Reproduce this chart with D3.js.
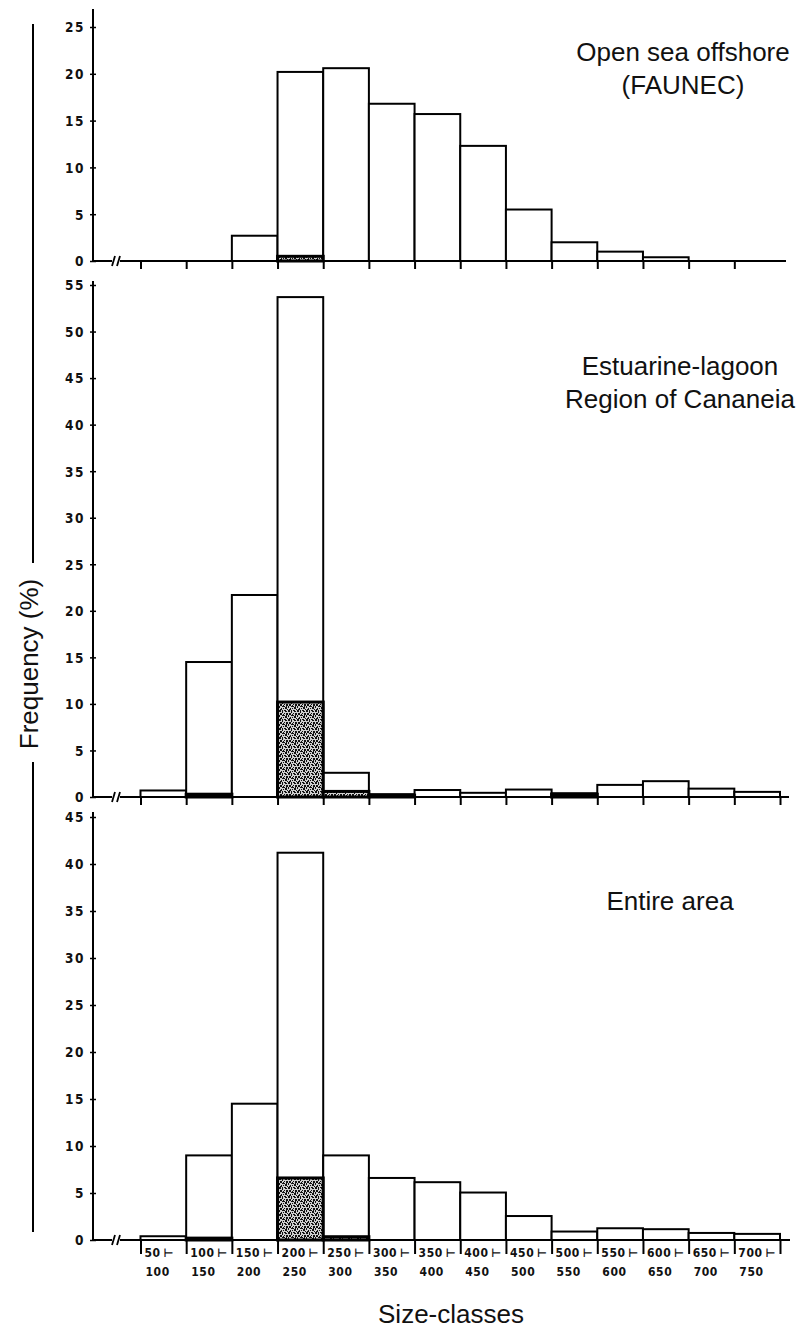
<!DOCTYPE html>
<html lang="en">
<head>
<meta charset="UTF-8">
<title>Frequency by size-classes</title>
<script src="https://d3js.org/d3.v7.min.js"></script>
<style>
  body { margin: 0; background: #fff; }
  .tick text {
    font-family: "DejaVu Sans Condensed", "DejaVu Sans", sans-serif;
    font-weight: bold;
    font-size: 13.5px;
    letter-spacing: 1.5px;
    fill: #111;
  }
  .xlab {
    font-family: "DejaVu Sans Condensed", "DejaVu Sans", sans-serif;
    font-weight: bold;
    font-size: 12px;
    letter-spacing: 0.6px;
    fill: #111;
  }
  .title {
    font-family: "Liberation Sans", Arial, sans-serif;
    font-size: 26px;
    fill: #111;
  }
</style>
</head>
<body>
<div id="chart"></div>
<script>
// size classes (lower bound, each 50 wide)
const classStarts = [50, 100, 150, 200, 250, 300, 350, 400, 450, 500, 550, 600, 650, 700];
const classWidth = 50;

// frequencies (%) per class, white bars, and the stippled part
const openSea        = [0, 0, 2.7, 20.2, 20.6, 16.8, 15.7, 12.3, 5.5, 2.0, 1.0, 0.4, 0, 0];
const openSeaShaded  = [0, 0, 0, 0.5, 0, 0, 0, 0, 0, 0, 0, 0, 0, 0];
const estuary        = [0.7, 14.5, 21.7, 53.7, 2.6, 0.3, 0.75, 0.45, 0.8, 0.4, 1.3, 1.7, 0.9, 0.55];
const estuaryShaded  = [0, 0.3, 0, 10.2, 0.6, 0.2, 0, 0, 0, 0.3, 0, 0, 0, 0];
const entire         = [0.4, 9.0, 14.5, 41.2, 9.0, 6.6, 6.15, 5.05, 2.55, 0.9, 1.25, 1.15, 0.75, 0.65];
const entireShaded   = [0, 0.2, 0, 6.6, 0.35, 0, 0, 0, 0, 0, 0, 0, 0, 0];

const ticksOpenSea = [0, 5, 10, 15, 20, 25];
const ticksEstuary = [0, 5, 10, 15, 20, 25, 30, 35, 40, 45, 50, 55];
const ticksEntire  = [0, 5, 10, 15, 20, 25, 30, 35, 40, 45];

const W = 802, H = 1331;
const axisX = 93;

const svg = d3.select("#chart").append("svg")
    .attr("width", W).attr("height", H);

// stipple texture for the shaded part (fixed speckle layout)
const pat = svg.append("defs").append("pattern")
    .attr("id", "stipple").attr("patternUnits", "userSpaceOnUse")
    .attr("width", 9).attr("height", 9);
pat.append("rect").attr("width", 9).attr("height", 9).attr("fill", "#d0d0d0");
[[0,0,2,1],[3,0,1,2],[6,0,2,1],[1,2,2,2],[5,2,1,1],[7,2,2,2],[0,4,1,2],[3,4,2,1],
 [6,5,2,2],[2,6,1,2],[4,6,1,1],[0,8,2,1],[5,8,2,1],[8,7,1,1],[4,3,1,1],[1,7,1,1],
 [7,4,1,1],[3,8,1,1],[5,4,1,1]].forEach(r => {
    pat.append("rect").attr("x", r[0]).attr("y", r[1])
        .attr("width", r[2]).attr("height", r[3]).attr("fill", "#111");
});

const x = d3.scaleLinear().domain([50, 750]).range([140.5, 780]);

const panels = [
    { values: openSea, shaded: openSeaShaded, ticks: ticksOpenSea, range: [261, 27], axisTop: 9,
      xTicks: d3.range(50, 701, 50), tickLen: 8, xEnd: 786,
      title: ["Open sea offshore", "(FAUNEC)"], tx: 683, ty: 61 },
    { values: estuary, shaded: estuaryShaded, ticks: ticksEstuary, range: [797, 285], axisTop: 281,
      xTicks: d3.range(50, 751, 50), tickLen: 8, xEnd: 789,
      title: ["Estuarine-lagoon", "Region of Cananeia"], tx: 680, ty: 375 },
    { values: entire, shaded: entireShaded, ticks: ticksEntire, range: [1240, 817], axisTop: 812,
      xTicks: d3.range(50, 751, 50), tickLen: 14, xEnd: 790,
      title: ["Entire area"], tx: 670, ty: 910 }
];

panels.forEach((p, pi) => {
    const maxT = p.ticks[p.ticks.length - 1];
    const y = d3.scaleLinear().domain([0, maxT]).range(p.range);
    const g = svg.append("g");
    const base = y(0);

    // bars
    g.selectAll(".bar")
        .data(classStarts.map((s, i) => ({ s, v: p.values[i] })).filter(d => d.v > 0))
        .enter().append("rect")
        .attr("x", d => x(d.s))
        .attr("width", d => x(d.s + classWidth) - x(d.s))
        .attr("y", d => y(d.v))
        .attr("height", d => base - y(d.v))
        .attr("fill", "#fff")
        .attr("stroke", "#000")
        .attr("stroke-width", 2);

    // stippled part
    g.selectAll(".shade")
        .data(classStarts.map((s, i) => ({ s, v: p.shaded[i] })).filter(d => d.v > 0))
        .enter().append("rect")
        .attr("x", d => x(d.s))
        .attr("width", d => x(d.s + classWidth) - x(d.s))
        .attr("y", d => y(d.v))
        .attr("height", d => base - y(d.v))
        .attr("fill", "url(#stipple)")
        .attr("stroke", "#000")
        .attr("stroke-width", 3);

    // x axis ticks
    const xa = g.append("g")
        .attr("transform", `translate(0,${base})`)
        .call(d3.axisBottom(x).tickValues(p.xTicks).tickFormat("")
            .tickSizeInner(p.tickLen).tickSizeOuter(0));
    xa.select(".domain").remove();
    xa.selectAll(".tick line").attr("stroke", "#000").attr("stroke-width", 2);

    // baseline with break mark
    g.append("line").attr("x1", axisX).attr("x2", 112)
        .attr("y1", base).attr("y2", base)
        .attr("stroke", "#000").attr("stroke-width", 2);
    g.append("line").attr("x1", 120).attr("x2", p.xEnd)
        .attr("y1", base).attr("y2", base)
        .attr("stroke", "#000").attr("stroke-width", 2);
    [112, 117].forEach(bx => {
        g.append("line").attr("x1", bx).attr("x2", bx + 3)
            .attr("y1", base + 5).attr("y2", base - 5)
            .attr("stroke", "#000").attr("stroke-width", 1.8);
    });

    // y axis
    const ya = g.append("g")
        .attr("transform", `translate(${axisX},0)`)
        .call(d3.axisLeft(y).tickValues(p.ticks)
            .tickSizeInner(3).tickSizeOuter(0).tickPadding(5));
    ya.select(".domain").remove();
    ya.selectAll(".tick line").attr("x1", 3).attr("stroke", "#000").attr("stroke-width", 1.5);
    ya.selectAll(".tick text").attr("dy", "0.36em");
    g.append("line").attr("x1", axisX).attr("x2", axisX)
        .attr("y1", p.axisTop).attr("y2", base + 1)
        .attr("stroke", "#000").attr("stroke-width", 2);

    // panel title
    p.title.forEach((t, i) => {
        g.append("text").attr("class", "title")
            .attr("x", p.tx).attr("y", p.ty + i * 33)
            .attr("text-anchor", "middle").text(t);
    });

    // class labels under the last panel
    if (pi === panels.length - 1) {
        const lab = g.selectAll(".xlab")
            .data(classStarts)
            .enter().append("text")
            .attr("class", "xlab");
        lab.append("tspan").attr("x", d => x(d) + 4).attr("y", base + 17)
            .text(d => d + "\u2009\u22A2");
        lab.append("tspan").attr("x", d => x(d) + 5).attr("y", base + 36)
            .text(d => d + classWidth);
    }
});

// y axis title with rules above and below
svg.append("text").attr("class", "title")
    .attr("transform", "translate(38,664) rotate(-90)")
    .attr("text-anchor", "middle")
    .text("Frequency (%)");
svg.append("line").attr("x1", 33).attr("x2", 33).attr("y1", 24).attr("y2", 563)
    .attr("stroke", "#000").attr("stroke-width", 2);
svg.append("line").attr("x1", 33).attr("x2", 33).attr("y1", 762).attr("y2", 1232)
    .attr("stroke", "#000").attr("stroke-width", 2);

// x axis title
svg.append("text").attr("class", "title")
    .attr("x", 451).attr("y", 1323)
    .attr("text-anchor", "middle")
    .text("Size-classes");
</script>
</body>
</html>
